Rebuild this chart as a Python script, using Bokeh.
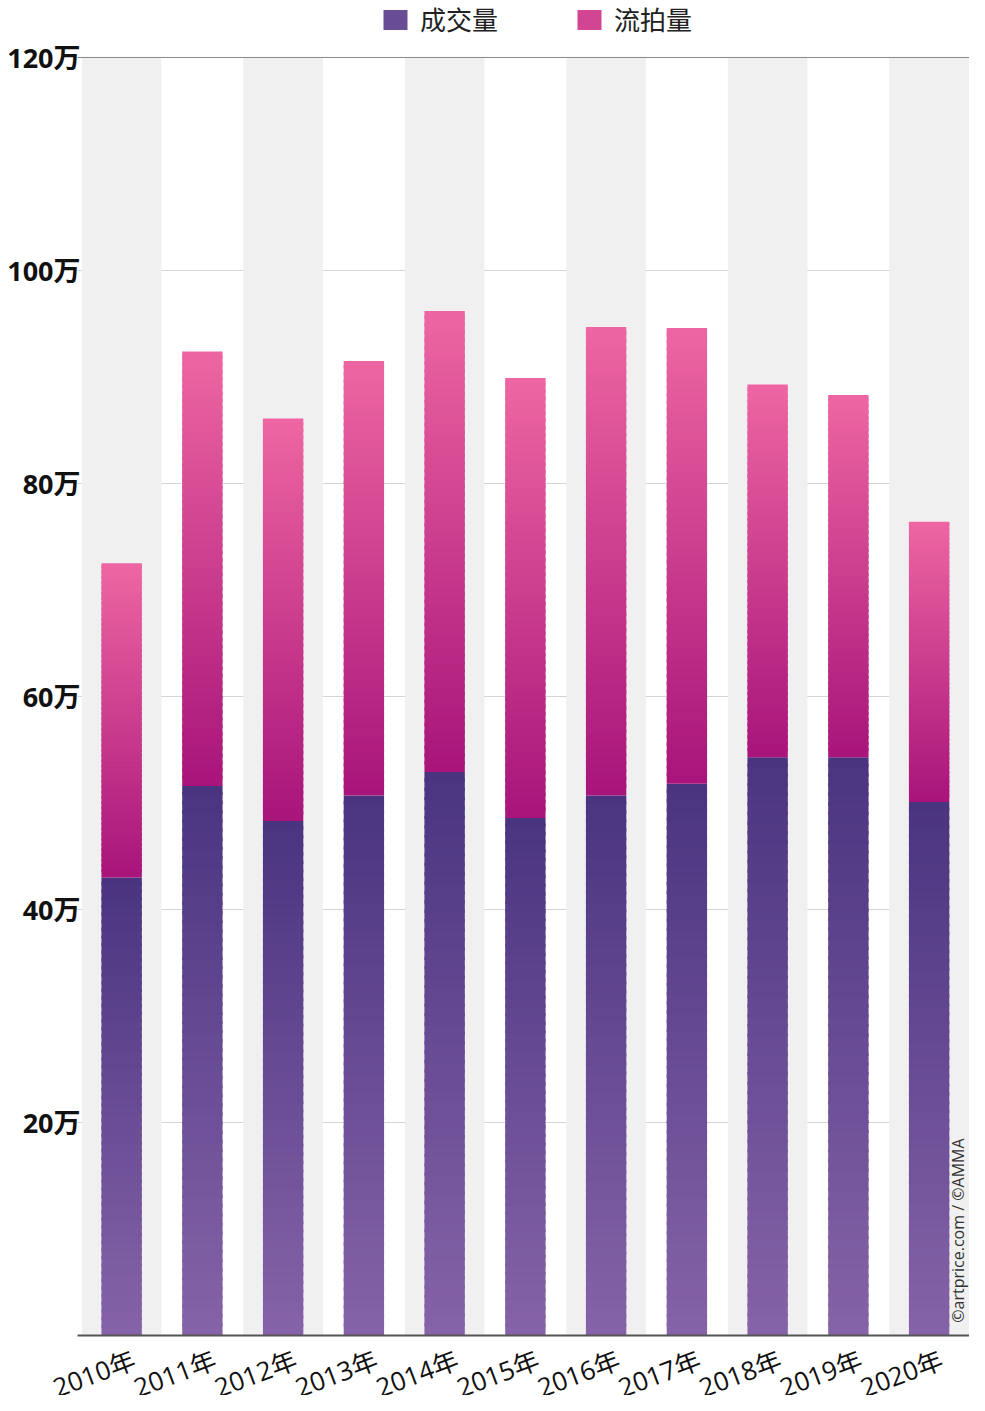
import math
from bokeh.plotting import figure
from bokeh.models import Legend, LegendItem, Label, ColumnDataSource
from bokeh.embed import file_html
from bokeh.resources import INLINE

# ---- data (units: 万) ----
years = ["2010年", "2011年", "2012年", "2013年", "2014年", "2015年",
         "2016年", "2017年", "2018年", "2019年", "2020年"]
sold = [43.0, 51.6, 48.3, 50.7, 52.9, 48.6, 50.7, 51.8, 54.3, 54.3, 50.1]
total = [72.5, 92.4, 86.1, 91.5, 96.2, 89.9, 94.7, 94.6, 89.3, 88.3, 76.4]
unsold = [round(t - s, 1) for t, s in zip(total, sold)]
y_ticks = [20, 40, 60, 80, 100, 120]
y_tick_labels = ["20万", "40万", "60万", "80万", "100万", "120万"]
series_names = ["成交量", "流拍量"]
credit = "©artprice.com / ©AMMA"
Y_MAX = 120

# ---- style / layout ----
SOLD_BOTTOM, SOLD_TOP = (0x86, 0x63, 0xa8), (0x4a, 0x34, 0x80)
UNS_BOTTOM, UNS_TOP = (0xa8, 0x14, 0x7a), (0xee, 0x66, 0xa2)
FONT = "Open Sans, Noto Sans CJK SC"
N = 60
PAD = " "            # empty slot on the left that holds the value labels
HEADROOM = 5.35      # room above the top line for the legend
FOOTROOM = 5.634     # room below the baseline for the year labels
AX_X = 0.954         # where grid lines start (synthetic x)
RIGHT = len(years) + 1


def mix(c0, c1, t):
    return "#%02x%02x%02x" % tuple(int(round(a + (b - a) * t)) for a, b in zip(c0, c1))


p = figure(x_range=[PAD] + years, y_range=(-FOOTROOM, Y_MAX + HEADROOM),
           width=969, height=1395, output_backend="svg", toolbar_location=None,
           min_border_left=0, min_border_right=0, min_border_top=0,
           min_border_bottom=0)
p.outline_line_color = None
p.background_fill_color = "white"
p.xaxis.visible = False
p.yaxis.visible = False
p.xgrid.grid_line_color = None
p.ygrid.grid_line_color = None

# grid lines (under the bands)
p.segment(x0=AX_X, x1=RIGHT, y0=y_ticks[:-1], y1=y_ticks[:-1],
          line_color="#d4d4d4", line_width=1)

# alternating bands
band_x = [y for i, y in enumerate(years) if i % 2 == 0]
p.vbar(x=band_x, top=Y_MAX, bottom=0, width=0.985, fill_color="#f0f0f0",
       line_color=None)


def gradient_bars(bottoms, heights, c_bottom, c_top):
    xs, bs, ts, cs = [], [], [], []
    for yr, b0, h in zip(years, bottoms, heights):
        for k in range(N):
            t0 = k / N
            t1 = (k + 1) / N
            xs.append(yr)
            bs.append(b0 + h * t0)
            ts.append(b0 + h * t1 + (0.3 if k < N - 1 else 0))
            cs.append(mix(c_bottom, c_top, (k + 0.5) / N))
    src = ColumnDataSource(dict(x=xs, bottom=bs, top=ts, color=cs))
    return p.vbar(x="x", bottom="bottom", top="top", width=0.5,
                  fill_color="color", line_color=None, source=src)


gradient_bars([0] * len(years), sold, SOLD_BOTTOM, SOLD_TOP)
gradient_bars(sold, unsold, UNS_BOTTOM, UNS_TOP)

# top line and baseline
p.segment(x0=AX_X, x1=RIGHT, y0=Y_MAX, y1=Y_MAX, line_color="#888888",
          line_width=1)
p.segment(x0=AX_X, x1=RIGHT, y0=0, y1=0, line_color="#555555", line_width=2)

# value-axis labels
for v, t in zip(y_ticks, y_tick_labels):
    p.add_layout(Label(x=AX_X, y=v, text=t, x_offset=3, text_align="right",
                       text_baseline="middle", text_font=FONT,
                       text_font_style="bold", text_font_size="27px",
                       text_color="#111"))

# rotated year labels
for i, yr in enumerate(years):
    p.add_layout(Label(x=i + 1.5, y=0, text=yr, angle=0.36,
                       text_align="right", text_baseline="top",
                       x_offset=6, y_offset=-6, text_font=FONT,
                       text_font_size="26px", text_color="#111"))

# legend
r1 = p.vbar(x=[PAD], top=[0], bottom=[0], width=0.5,
            fill_color=mix(SOLD_BOTTOM, SOLD_TOP, 0.5), line_color=None)
r2 = p.vbar(x=[PAD], top=[0], bottom=[0], width=0.5,
            fill_color=mix(UNS_BOTTOM, UNS_TOP, 0.6), line_color=None)
legend = Legend(items=[LegendItem(label=series_names[0], renderers=[r1]),
                       LegendItem(label=series_names[1], renderers=[r2])],
                orientation="horizontal", location=(380, 1357),
                label_text_font=FONT, label_text_font_size="26px",
                label_text_color="#222", glyph_width=30, glyph_height=25,
                label_height=25, label_standoff=10, spacing=76, padding=0,
                margin=0, border_line_alpha=0, background_fill_alpha=0)
p.add_layout(legend, "center")

# credit
p.add_layout(Label(x=RIGHT - 0.14, y=1.2, text=credit, angle=math.pi / 2,
                   text_font=FONT, text_font_size="16px", text_color="#333",
                   text_align="left", text_baseline="middle"))

open("out.html", "w").write(file_html(p, INLINE))
